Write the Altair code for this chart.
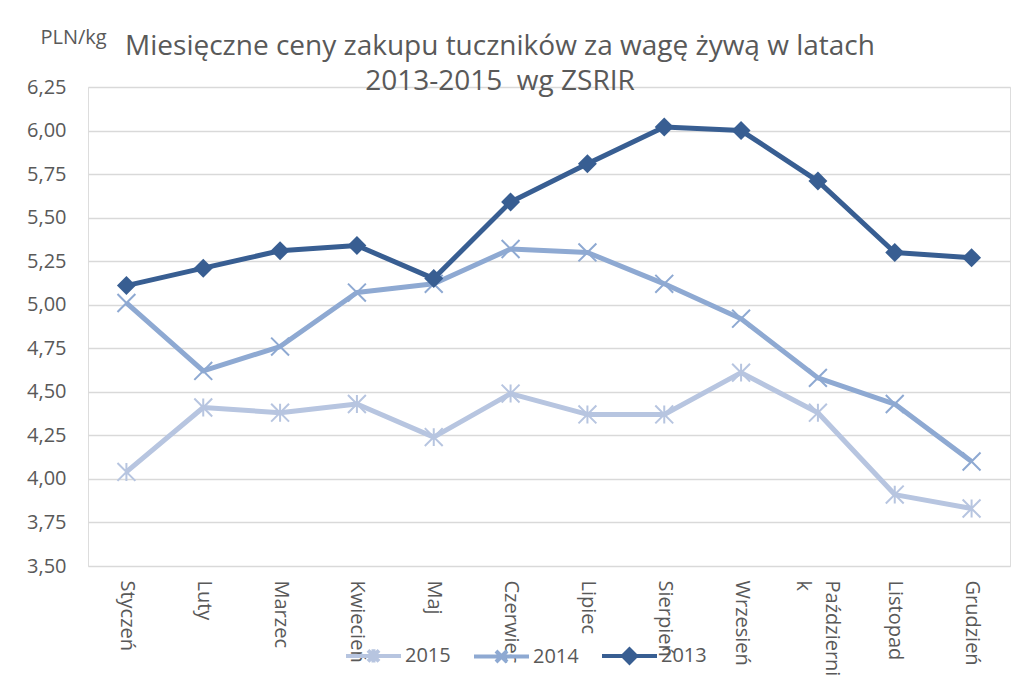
import altair as alt
import pandas as pd

months = ["Styczeń", "Luty", "Marzec", "Kwiecień", "Maj", "Czerwiec", "Lipiec",
          "Sierpień", "Wrzesień", "Październik", "Listopad", "Grudzień"]
v2013 = [5.11, 5.21, 5.31, 5.34, 5.15, 5.59, 5.81, 6.02, 6.00, 5.71, 5.30, 5.27]
v2014 = [5.01, 4.62, 4.76, 5.07, 5.12, 5.32, 5.30, 5.12, 4.92, 4.58, 4.43, 4.10]
v2015 = [4.04, 4.41, 4.38, 4.43, 4.24, 4.49, 4.37, 4.37, 4.61, 4.38, 3.91, 3.83]
years = ["2015", "2014", "2013"]
y_ticks = [3.50, 3.75, 4.00, 4.25, 4.50, 4.75, 5.00, 5.25, 5.50, 5.75, 6.00, 6.25]
title_lines = ["Miesięczne ceny zakupu tuczników za wagę żywą w latach", "2013-2015\u00a0 wg ZSRIR"]
y_unit = "PLN/kg"

colors = ["#B7C5E0", "#8EA9D2", "#385E92"]
FONT = "Open Sans"
TXT = "#595959"
FS = 20

series = {"2015": v2015, "2014": v2014, "2013": v2013}
rows = []
for yr, vals in series.items():
    for m, v in zip(months, vals):
        rows.append({"month": m, "year": yr, "value": v})
df = pd.DataFrame(rows)

star = "M-1,-1L1,1M-1,1L1,-1M0,-1L0,1"
cross = "M-1,-1L1,1M-1,1L1,-1"
marker_shapes = {"2015": star, "2014": cross, "2013": "diamond"}

legend_paths = [
    "M-1,0L1,0M-0.2,-0.2L0.2,0.2M-0.2,0.2L0.2,-0.2M0,-0.24L0,0.24",
    "M-1,0L1,0M-0.2,-0.2L0.2,0.2M-0.2,0.2L0.2,-0.2",
    "M-1,0L1,0M-0.24,0L0,-0.24L0.24,0L0,0.24Z",
]

color_scale = alt.Scale(domain=years, range=colors)

x_enc = alt.X("month:N", sort=months, title=None,
              axis=alt.Axis(labelAngle=90, domain=False, ticks=False, labelPadding=14,
                            labelFontSize=FS, labelColor=TXT, labelFont=FONT,
                            labelExpr="datum.label == 'Październik' ? ['Październi', 'k'] : datum.label",
                            labelLineHeight=29,
                            labelOffset={"condition": {"test": "datum.value == 'Październik'", "value": 14},
                                         "value": 0}))
y_enc = alt.Y("value:Q", scale=alt.Scale(domain=[3.5, 6.25], nice=False, zero=False),
              axis=alt.Axis(values=y_ticks, domain=False, ticks=False, labelPadding=22,
                            labelFontSize=FS, labelColor=TXT, labelFont=FONT,
                            labelExpr="replace(format(datum.value, '.2f'), '.', ',')",
                            gridColor="#D9D9D9", gridWidth=1.3,
                            title=y_unit, titleAngle=0, titleAlign="left", titleBaseline="alphabetic",
                            titleX=-48, titleY=-44, titleFontSize=FS, titleFontWeight="normal",
                            titleColor=TXT, titleFont=FONT))

layers = []
for yr in years:
    base = alt.Chart(df).transform_filter(alt.datum.year == yr)
    line = base.mark_line(strokeWidth=5, strokeJoin="round").encode(
        x=x_enc, y=y_enc, color=alt.Color("year:N", scale=color_scale, legend=None))
    if yr == "2013":
        pts = base.mark_point(shape="diamond", filled=True, size=360, opacity=1).encode(
            x=x_enc, y=y_enc, color=alt.Color("year:N", scale=color_scale, legend=None))
    else:
        pts = base.mark_point(shape=marker_shapes[yr], filled=False, size=320, strokeWidth=2,
                              opacity=1).encode(
            x=x_enc, y=y_enc, color=alt.Color("year:N", scale=color_scale, legend=None))
    layers += [line, pts]

leg = alt.Legend(title=None, orient="none", direction="horizontal", legendX=256, legendY=539,
                 symbolSize=3025, symbolStrokeWidth=4, symbolOpacity=1, labelFontSize=FS,
                 labelColor=TXT, labelFont=FONT, labelOffset=2, columnPadding=15, padding=0)
legend_layer = alt.Chart(df).mark_point(filled=True, opacity=0).encode(
    x=x_enc, y=y_enc,
    shape=alt.Shape("year:N", scale=alt.Scale(domain=years, range=legend_paths), legend=leg),
    fill=alt.Fill("year:N", scale=alt.Scale(domain=years, range=colors), legend=leg),
    stroke=alt.Stroke("year:N", scale=alt.Scale(domain=years, range=colors), legend=leg),
)
layers.insert(0, legend_layer)

chart = alt.layer(*layers).properties(
    width=922, height=479,
    autosize=alt.AutoSizeParams(type="none"),
    padding={"left": 80, "top": 79, "right": 6, "bottom": 112},
    title=alt.TitleParams(text=title_lines, anchor="middle", frame="group", dx=-49, fontSize=28,
                          fontWeight="normal", font=FONT, color=TXT, lineHeight=35, offset=-69),
).configure_view(stroke=None).configure(background="white")

chart.save("out.html", embed_options={"renderer": "svg", "actions": False})
